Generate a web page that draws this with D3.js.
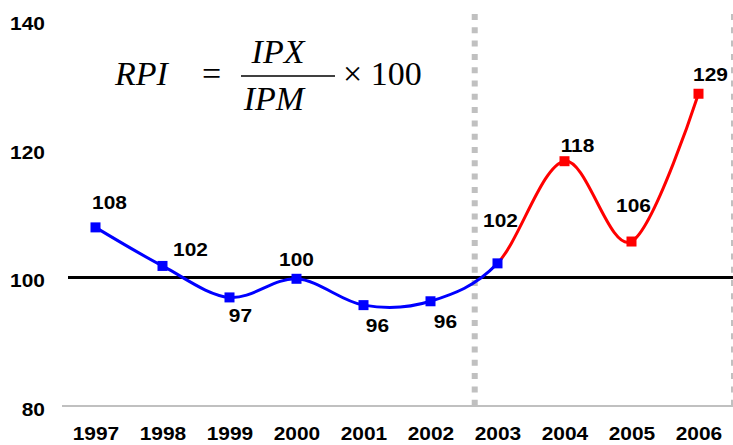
<!DOCTYPE html>
<html>
<head>
<meta charset="utf-8">
<script src="https://cdn.jsdelivr.net/npm/d3@7"></script>
<style>
  html, body { margin: 0; padding: 0; background: #fff; }
  svg { display: block; }
  .lbl { font-family: "Liberation Sans", Arial, sans-serif; font-weight: bold; font-size: 19px; fill: #000; }
  .formula { font-family: "Liberation Serif", "Times New Roman", serif; fill: #000; }
</style>
</head>
<body>
<svg id="chart" width="733" height="445"></svg>
<script>
// Relative price index (RPI = IPX / IPM × 100), yearly values
const years = ["1997","1998","1999","2000","2001","2002","2003","2004","2005","2006"];
const rpi = [107.8, 101.8, 96.9, 99.8, 95.7, 96.3, 102.2, 118.1, 105.6, 128.6];
const yTicks = [80, 100, 120, 140];
const baseline = 100;
// Years drawn in the second (red) colour
const secondPeriodStart = "2003";

// Label offsets from each point (dx, dy to label centre)
const labelOffsets = [[14,-25],[28,-17],[11,18],[0,-20],[14,20],[15,20],[3,-43],[13,-16],[2,-37],[12,-20]];

const W = 733, H = 445;
const plot = { left: 62, right: 732, top: 14, bottom: 406 };
const stretch = 1.1; // wide bold lettering

const svg = d3.select("#chart");

const x = d3.scalePoint().domain(years).range([plot.left, plot.right]).padding(0.5);
const step = x.step();
const y = d3.scaleLinear().domain([80, 140]).range([plot.bottom, 20.5]);

// Position of the period divider between 2002 and 2003
const dividerX = x("2002") + step * 0.66;

// Period dividers (grey dotted)
[dividerX, plot.right + 2].forEach(px => {
  svg.append("line")
    .attr("x1", px).attr("x2", px)
    .attr("y1", plot.top).attr("y2", plot.bottom)
    .attr("stroke", "#c0c0c0").attr("stroke-width", 6)
    .attr("stroke-dasharray", "6,7.3");
});

// Category axis line
svg.append("line")
  .attr("x1", plot.left).attr("x2", W)
  .attr("y1", y(80)).attr("y2", y(80))
  .attr("stroke", "#c0c0c0").attr("stroke-width", 2);

// Y tick labels
const yAxis = d3.axisLeft(y).tickValues(yTicks).tickSize(0).tickPadding(0);
const yg = svg.append("g").attr("transform", "translate(45,3)").call(yAxis);
yg.select(".domain").remove();
yg.selectAll("text").attr("class", "lbl").attr("font-size", null).attr("font-family", null)
  .attr("transform", `scale(${stretch},1)`);

// X tick labels
const xAxis = d3.axisBottom(x).tickSize(0).tickPadding(0);
const xg = svg.append("g").attr("transform", "translate(0,427)").call(xAxis);
xg.select(".domain").remove();
xg.selectAll("text").attr("class", "lbl").attr("font-size", null).attr("font-family", null)
  .attr("transform", `scale(${stretch},1)`);

// Reference line at 100
svg.append("line")
  .attr("x1", 68).attr("x2", W)
  .attr("y1", y(baseline)).attr("y2", y(baseline))
  .attr("stroke", "#000").attr("stroke-width", 3);

// Smoothed series, split by colour at the start of the second period
const pts = years.map((yr, i) => [x(yr), y(rpi[i])]);
const line = d3.line().curve(d3.curveCatmullRom.alpha(0));
const splitX = x(secondPeriodStart);

const defs = svg.append("defs");
defs.append("clipPath").attr("id", "clipA")
  .append("rect").attr("x", 0).attr("y", 0).attr("width", splitX).attr("height", H);
defs.append("clipPath").attr("id", "clipB")
  .append("rect").attr("x", splitX).attr("y", 0).attr("width", W - splitX).attr("height", H);

svg.append("path").attr("d", line(pts))
  .attr("fill", "none").attr("stroke", "#0000ff").attr("stroke-width", 3)
  .attr("clip-path", "url(#clipA)");
svg.append("path").attr("d", line(pts))
  .attr("fill", "none").attr("stroke", "#ff0000").attr("stroke-width", 3)
  .attr("clip-path", "url(#clipB)");

// Square markers
const splitIdx = years.indexOf(secondPeriodStart);
svg.selectAll("rect.mk").data(years).enter().append("rect")
  .attr("class", "mk")
  .attr("x", d => x(d) - 5).attr("y", (d, i) => y(rpi[i]) - 5)
  .attr("width", 10).attr("height", 10)
  .attr("fill", (d, i) => i <= splitIdx ? "#0000ff" : "#ff0000");

// Value labels
svg.selectAll("text.val").data(years).enter().append("text")
  .attr("class", "lbl val")
  .attr("text-anchor", "middle")
  .attr("transform", (d, i) =>
    `translate(${x(d) + labelOffsets[i][0]},${y(rpi[i]) + labelOffsets[i][1] + 7}) scale(${stretch},1)`)
  .text((d, i) => Math.round(rpi[i]));

// Formula
const f = svg.append("g").attr("class", "formula");
f.append("text").attr("x", 115).attr("y", 85).attr("font-size", 34).attr("font-style", "italic").text("RPI");
f.append("text").attr("x", 202).attr("y", 85).attr("font-size", 34).text("=");
f.append("text").attr("x", 278).attr("y", 63).attr("font-size", 34).attr("font-style", "italic").attr("text-anchor", "middle").text("IPX");
f.append("line").attr("x1", 241).attr("x2", 335).attr("y1", 76).attr("y2", 76).attr("stroke", "#000").attr("stroke-width", 1.5);
f.append("text").attr("x", 274).attr("y", 110).attr("font-size", 34).attr("font-style", "italic").attr("text-anchor", "middle").text("IPM");
f.append("text").attr("x", 343).attr("y", 85).attr("font-size", 34).text("× 100");
</script>
</body>
</html>
